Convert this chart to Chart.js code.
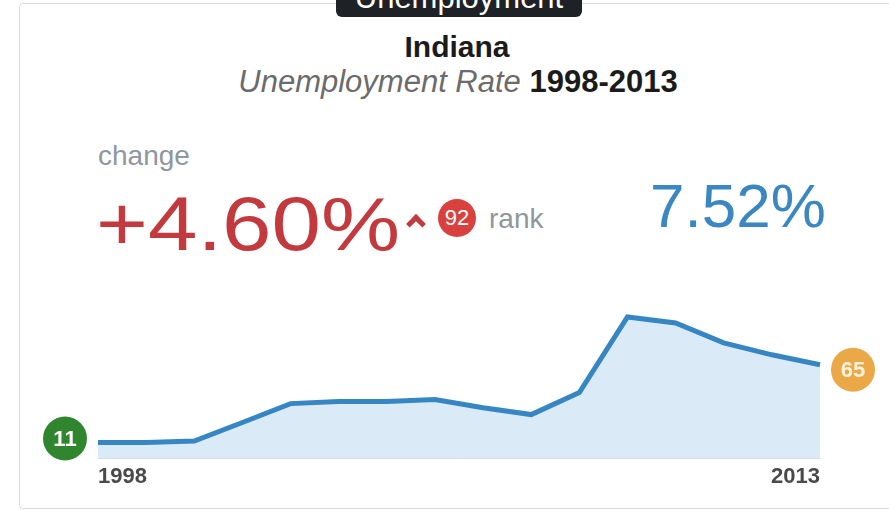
<!DOCTYPE html>
<html lang="en">
<head>
    <meta charset="UTF-8">
    <title>Indiana Unemployment Rate 1998-2013</title>
    <script src="https://cdn.jsdelivr.net/npm/chart.js"></script>
    <style>
        body {
            margin: 0;
            width: 889px;
            height: 510px;
            overflow: hidden;
            background: #fff;
            font-family: "Liberation Sans", Arial, sans-serif;
            position: relative;
        }

        .card {
            position: absolute;
            left: 19px;
            top: 3px;
            width: 900px;
            height: 504px;
            border: 1px solid #dadada;
            border-radius: 4px;
            background: #fff;
        }

        .tip {
            position: absolute;
            left: 336px;
            top: -20px;
            width: 246px;
            height: 37px;
            background: #1e2226;
            border-radius: 6px;
            color: #fff;
            font-size: 31px;
            line-height: 1;
            text-align: center;
            overflow: hidden;
        }
        .tip span {
            position: relative;
            top: 2px;
        }

        .abs { position: absolute; white-space: nowrap; }

        .title {
            left: 0; width: 914px; text-align: center;
            top: 30px; font-size: 30px; font-weight: bold; color: #1b1b1b;
        }
        .subtitle {
            left: 0; width: 916px; text-align: center;
            top: 64px; font-size: 31px; color: #1b1b1b;
        }
        .subtitle em { color: #6b6b6b; }
        .subtitle b { font-weight: bold; }

        .label-change { left: 98px; top: 140px; font-size: 28px; color: #8e979c; }
        .change {
            left: 96px; top: 186px; font-size: 76px; color: #c23a3e; line-height: 1;
            transform: scaleX(1.17); transform-origin: left top;
        }
        .caret {
            left: 409px; top: 217px; width: 9px; height: 9px;
            border-top: 5px solid #c23a3e; border-left: 5px solid #c23a3e;
            transform: rotate(45deg);
        }
        .rank-badge {
            left: 438px; top: 199px; width: 38px; height: 38px;
            border-radius: 50%; background: #d9413f; color: #fff;
            font-size: 22px; line-height: 38px; text-align: center;
        }
        .rank-label { left: 489px; top: 203px; font-size: 28px; color: #8e979c; }
        .current { left: 650px; top: 175px; font-size: 62px; color: #3a87c1; line-height: 1; }

        #trend {
            position: absolute;
            left: 0;
            top: 280px;
        }
    </style>
</head>
<body>
    <div class="card"></div>
    <div class="tip"><span>Unemployment</span></div>

    <div class="abs title">Indiana</div>
    <div class="abs subtitle"><em>Unemployment Rate</em> <b>1998-2013</b></div>

    <div class="abs label-change">change</div>
    <div class="abs change">+4.60%</div>
    <div class="abs caret"></div>
    <div class="abs rank-badge">92</div>
    <div class="abs rank-label">rank</div>
    <div class="abs current">7.52%</div>

    <canvas id="trend" width="889" height="230"></canvas>

    <script>
        // Yearly unemployment rate, percent
        const years = ['1998', '1999', '2000', '2001', '2002', '2003', '2004', '2005',
                       '2006', '2007', '2008', '2009', '2010', '2011', '2012', '2013'];
        const rates = [2.92, 2.92, 3.0, 4.1, 5.22, 5.34, 5.34, 5.46,
                       4.98, 4.57, 5.87, 10.35, 9.99, 8.82, 8.11, 7.52];

        // State rank at the first and last year
        const startRank = '11';
        const endRank = '65';

        // Draws the round rank badges next to the ends of the line
        const endBadges = {
            id: 'endBadges',
            afterDatasetsDraw(chart) {
                const pts = chart.getDatasetMeta(0).data;
                const first = pts[0];
                const last = pts[pts.length - 1];
                const ctx = chart.ctx;

                function badge(x, y, color, text, textColor) {
                    ctx.save();
                    ctx.beginPath();
                    ctx.arc(x, y, 22, 0, Math.PI * 2);
                    ctx.fillStyle = color;
                    ctx.fill();
                    ctx.fillStyle = textColor;
                    ctx.font = 'bold 22px "Liberation Sans", Arial, sans-serif';
                    ctx.textAlign = 'center';
                    ctx.textBaseline = 'middle';
                    ctx.fillText(text, x, y + 1);
                    ctx.restore();
                }

                badge(first.x - 33, first.y - 4, '#2f862f', startRank, '#fff');
                badge(last.x + 33, last.y + 5, '#eaa846', endRank, '#fdf2de');
            }
        };

        const ctx = document.getElementById('trend').getContext('2d');
        new Chart(ctx, {
            type: 'line',
            data: {
                labels: years,
                datasets: [{
                    data: rates,
                    borderColor: '#3786c4',
                    borderWidth: 5,
                    backgroundColor: '#daebf7',
                    fill: 'start',
                    tension: 0,
                    pointRadius: 0,
                    borderCapStyle: 'butt'
                }]
            },
            options: {
                responsive: false,
                animation: false,
                layout: {
                    padding: { left: 98, right: 69, top: 26, bottom: 12 }
                },
                plugins: {
                    legend: { display: false },
                    tooltip: { enabled: false }
                },
                scales: {
                    x: {
                        grid: { display: false, drawTicks: false },
                        border: { display: true, color: '#d3dde4', width: 1 },
                        ticks: {
                            autoSkip: false,
                            maxRotation: 0,
                            align: 'inner',
                            padding: 6,
                            color: '#4a4a4a',
                            font: { family: '"Liberation Sans", Arial, sans-serif', size: 22, weight: 'bold' },
                            callback: (v, i) => (i === 0 || i === years.length - 1) ? years[i] : ''
                        },
                        afterFit: s => { s.height = 40; }
                    },
                    y: {
                        display: false,
                        min: 2,
                        max: 11
                    }
                }
            },
            plugins: [endBadges]
        });
    </script>
</body>
</html>
